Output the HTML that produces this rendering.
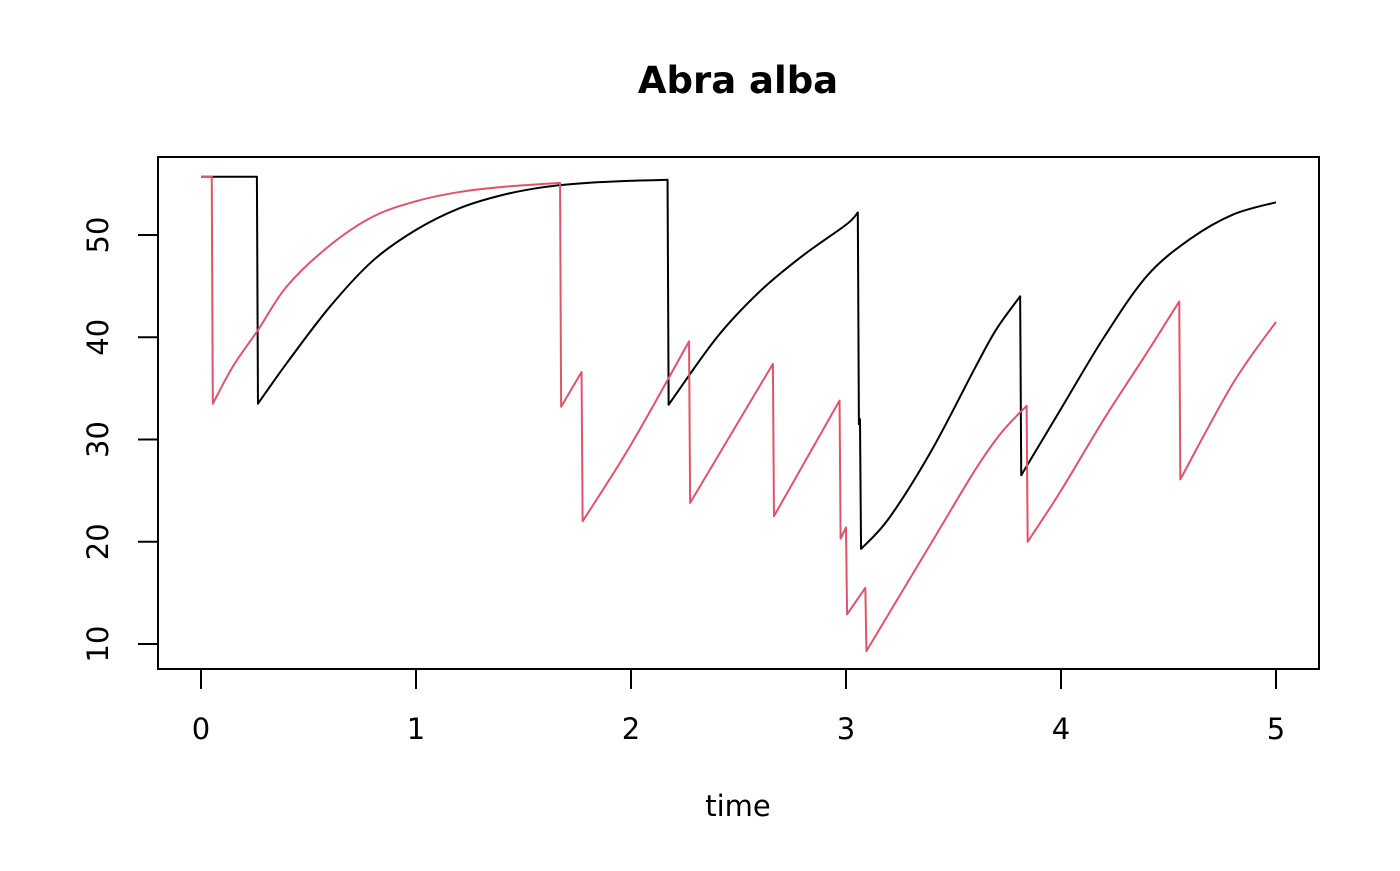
<!DOCTYPE html>
<html><head><meta charset="utf-8"><style>
body{margin:0;background:#fff}
svg text{font-family:"DejaVu Sans","Liberation Sans",sans-serif;fill:#000}
</style></head><body>
<svg id="chart" width="1400" height="866" xmlns="http://www.w3.org/2000/svg">
<text x="738" y="93" font-size="37" font-weight="bold" text-anchor="middle">Abra alba</text>
<rect x="158" y="157" width="1161" height="512" fill="none" stroke="#000" stroke-width="2"/>
<text x="738" y="816" font-size="29" text-anchor="middle">time</text>
<g id="axes"></g><g id="series"></g>
</svg>
<script>
const xTicks=[0,1,2,3,4,5];
const yTicks=[10,20,30,40,50];
const blackT=[0,0.26,0.265,0.4,0.6,0.8,1.0,1.2,1.4,1.6,1.8,2.0,2.17,2.175,2.4,2.6,2.8,3.0,3.055,3.06,3.065,3.07,3.2,3.4,3.6,3.7,3.81,3.815,4.0,4.2,4.4,4.6,4.8,5.0];
const blackV=[55.7,55.7,33.5,37.5,43,47.5,50.5,52.6,53.9,54.7,55.1,55.3,55.4,33.4,40,44.5,48,51,52.2,31.5,32,19.3,22.3,29,37,40.8,44,26.5,33,40,46,49.6,52,53.2];
const redT=[0,0.05,0.055,0.15,0.265,0.4,0.6,0.8,1.0,1.2,1.4,1.67,1.675,1.77,1.775,2.0,2.27,2.275,2.66,2.665,2.97,2.975,3.0,3.005,3.09,3.095,3.2,3.4,3.6,3.72,3.84,3.845,4.0,4.2,4.4,4.55,4.555,4.8,5.0];
const redV=[55.7,55.7,33.5,37.2,40.7,45,49,51.8,53.3,54.2,54.7,55.1,33.2,36.6,22,29.5,39.6,23.8,37.4,22.5,33.8,20.3,21.4,12.9,15.5,9.3,13,20,27,30.6,33.3,20,25,32,38.5,43.5,26.1,35.5,41.5];
const X=t=>201+t*215;
const Y=v=>644-(v-10)*10.225;
const NS="http://www.w3.org/2000/svg";
const axes=document.getElementById('axes');
function mk(tag,attrs,parent){const e=document.createElementNS(NS,tag);for(const k in attrs)e.setAttribute(k,attrs[k]);parent.appendChild(e);return e;}
const xl=mk('line',{x1:X(0),x2:X(5),y1:669,y2:669,stroke:'#000','stroke-width':2},axes);


xTicks.forEach(t=>{
  const l=mk('line',{x1:X(t),x2:X(t),y1:669,y2:689,stroke:'#000','stroke-width':2},axes);
  
  
  const tx=mk('text',{x:X(t),y:739,'font-size':29,'text-anchor':'middle'},axes);tx.textContent=t;
  
  
});
yTicks.forEach(v=>{
  const l=mk('line',{x1:138,x2:158,y1:Y(v),y2:Y(v),stroke:'#000','stroke-width':2},axes);
  
  
  const tx=mk('text',{x:0,y:0,'font-size':29,'text-anchor':'middle',transform:`translate(108,${Y(v)}) rotate(-90)`},axes);tx.textContent=v;
  
  
});
const s=document.getElementById('series');
function line(T,V,col,name){
  const P=T.map((t,i)=>[X(t),Y(V[i])]);
  const runs=[];let cur=[P[0]];
  for(let i=1;i<P.length;i++){
    if(T[i]-T[i-1]<0.012){runs.push(cur);cur=[P[i]];}else cur.push(P[i]);
  }
  runs.push(cur);
  let d='';
  runs.forEach((r,ri)=>{
    d+=(ri===0?'M':'L')+r[0][0]+','+r[0][1];
    for(let i=0;i<r.length-1;i++){
      const p0=r[i-1]||r[i],p1=r[i],p2=r[i+1],p3=r[i+2]||r[i+1];
      const c1=[p1[0]+(p2[0]-p0[0])/6,p1[1]+(p2[1]-p0[1])/6];
      const c2=[p2[0]-(p3[0]-p1[0])/6,p2[1]-(p3[1]-p1[1])/6];
      d+=`C${c1[0]},${c1[1]} ${c2[0]},${c2[1]} ${p2[0]},${p2[1]}`;
    }
  });
  const p=mk('path',{d:d,fill:'none',stroke:col,'stroke-width':2,'stroke-linejoin':'round'},s);
  
  
}
line(blackT,blackV,'#000','series-black');
line(redT,redV,'#df536b','series-red');
</script>
</body></html>
